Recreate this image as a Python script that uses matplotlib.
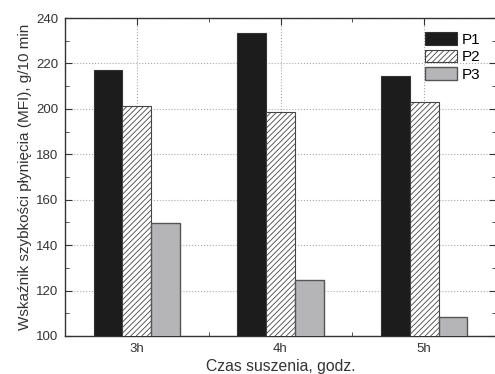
import matplotlib.pyplot as plt
import numpy as np
from matplotlib.ticker import MultipleLocator

plt.rcParams['font.family'] = ['Liberation Sans', 'DejaVu Sans']
plt.rcParams['hatch.linewidth'] = 0.6
plt.rcParams['hatch.color'] = '#333333'

categories = ["3h", "4h", "5h"]
p1 = [217.0, 233.3, 214.5]
p2 = [201.3, 198.5, 203.2]
p3 = [149.6, 124.6, 108.2]

fig = plt.figure(figsize=(4.95, 3.74), dpi=100)
ax = fig.add_axes([65 / 495, 38 / 374, 431 / 495, 318 / 374])

x = np.arange(1, len(categories) + 1)
w = 0.2
ax.bar(x - w, p1, w, color='#1c1c1c', edgecolor='#333333', linewidth=0.8, label='P1', zorder=3)
ax.bar(x, p2, w, color='white', edgecolor='#444444', hatch='//////', linewidth=0.8, label='P2', zorder=3)
ax.bar(x + w, p3, w, color='#b5b5b7', edgecolor='#555555', linewidth=1.0, label='P3', zorder=3)

ax.set_xlim(0.5, 3.5)
ax.set_ylim(100, 240)
ax.set_xticks(x)
ax.set_xticklabels(categories)
ax.xaxis.set_minor_locator(MultipleLocator(0.5))
ax.yaxis.set_major_locator(MultipleLocator(20))
ax.yaxis.set_minor_locator(MultipleLocator(10))
ax.tick_params(which='both', direction='in', top=True, right=True, colors='#333333', labelcolor='#333333', labelsize=9.5)
ax.tick_params(which='major', length=5, pad=5)
ax.tick_params(which='minor', length=3)
ax.grid(True, which='major', linestyle=':', color='#aaaaaa', linewidth=0.8, zorder=0)
for s in ax.spines.values():
    s.set_color('#333333')
    s.set_linewidth(1.0)

ax.set_xlabel("Czas suszenia, godz.", fontsize=11.3, color='#333333', labelpad=3)
ax.set_ylabel("Wskaźnik szybkości płynięcia (MFI), g/10 min", fontsize=11, color='#333333', labelpad=3)

ax.legend(loc='upper right', bbox_to_anchor=(0.985, 0.985), frameon=False, fontsize=11,
          handlelength=2.1, handleheight=0.9, handletextpad=0.3, labelspacing=0.2, borderaxespad=0.2)

fig.savefig("out.png", dpi=100)
